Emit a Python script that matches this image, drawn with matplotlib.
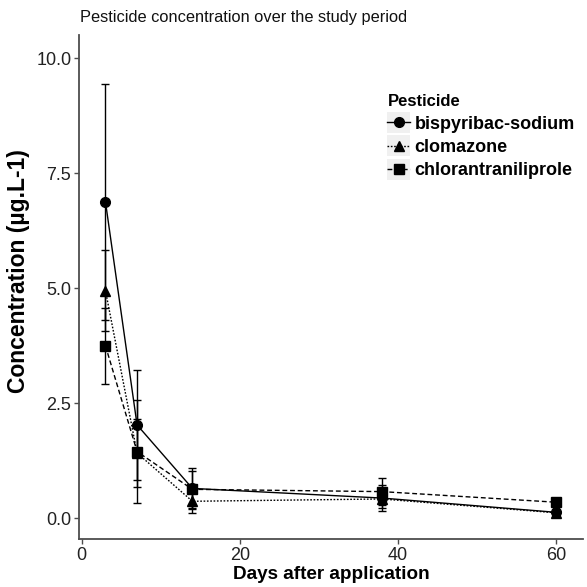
import numpy as np
import matplotlib
matplotlib.use("Agg")
import matplotlib.pyplot as plt
from matplotlib.legend_handler import HandlerLine2D
from matplotlib.patches import Rectangle

plt.rcParams['font.family'] = ['Liberation Sans', 'DejaVu Sans']

days = [3, 7, 14, 38, 60]
pesticides = ["bispyribac-sodium", "clomazone", "chlorantraniliprole"]

bispyribac = [6.88, 2.03, 0.65, 0.44, 0.13]
bispyribac_err = [2.57, 1.19, 0.45, 0.28, 0.03]
clomazone = [4.95, 1.42, 0.37, 0.42, 0.12]
clomazone_err = [0.88, 0.74, 0.25, 0.20, 0.03]
chlorantraniliprole = [3.75, 1.45, 0.63, 0.58, 0.35]
chlorantraniliprole_err = [0.82, 1.12, 0.40, 0.30, 0.03]

series = [
    (bispyribac, bispyribac_err, 'o', '-'),
    (clomazone, clomazone_err, '^', (0, (1.2, 1.2))),
    (chlorantraniliprole, chlorantraniliprole_err, 's', (0, (3.5, 2))),
]


class KeyHandler(HandlerLine2D):
    # ggplot-like grey key background behind each legend entry
    def create_artists(self, legend, orig_handle, xdescent, ydescent,
                       width, height, fontsize, trans):
        artists = super().create_artists(legend, orig_handle, xdescent, ydescent,
                                         width, height, fontsize, trans)
        size = width
        bg = Rectangle((-xdescent, -ydescent + (height - size) / 2 + 0.5),
                       size, size - 1, facecolor='#f0f0f0', edgecolor='none',
                       transform=trans, zorder=0)
        return [bg] + list(artists)


fig = plt.figure(figsize=(5.87, 5.87), dpi=100)
ax = fig.add_axes([0.1346, 0.0818, 0.8586, 0.8586])

handles = []
for (vals, err, mk, ls), name in zip(series, pesticides):
    ax.errorbar(days, vals, yerr=err, fmt='none', ecolor='black',
                elinewidth=1.0, capsize=3.2, capthick=1.0, zorder=2)
    h, = ax.plot(days, vals, color='black', linestyle=ls, linewidth=1.0,
                 marker=mk, markersize=7, label=name, zorder=3)
    handles.append(h)

ax.set_xlim(-0.35, 63.45)
ax.set_ylim(-0.45, 10.51)
ax.set_xticks([0, 20, 40, 60])
ax.set_yticks([0, 2.5, 5.0, 7.5, 10.0])
ax.set_yticklabels(["0.0", "2.5", "5.0", "7.5", "10.0"])

for side in ['top', 'right']:
    ax.spines[side].set_visible(False)
for side in ['left', 'bottom']:
    ax.spines[side].set_color('#4d4d4d')
    ax.spines[side].set_linewidth(1.3)
ax.tick_params(axis='both', direction='out', length=3.5, width=1.0,
               color='#4d4d4d', labelsize=13, labelcolor='#222222', pad=2)

ax.set_xlabel("Days after application", fontsize=13.6, fontweight='bold', labelpad=2)
ax.set_ylabel("Concentration (µg.L-1)", fontsize=16.5, fontweight='bold')
ax.yaxis.set_label_coords(-0.098, 0.532)

fig.text(0.137, 0.962, "Pesticide concentration over the study period",
         fontsize=11.8, ha='left', va='baseline', color='#111111')

leg = ax.legend(handles=handles, title="Pesticide", loc='upper left',
                bbox_to_anchor=(0.587, 0.907), frameon=False,
                prop={'weight': 'bold', 'size': 13}, handlelength=1.25,
                handletextpad=0.25, labelspacing=0.35, borderpad=0.2,
                handler_map={plt.Line2D: KeyHandler()})
leg.get_title().set_fontweight('bold')
leg.get_title().set_fontsize(12)
leg._legend_box.align = "left"

fig.savefig("out.png", dpi=100)
